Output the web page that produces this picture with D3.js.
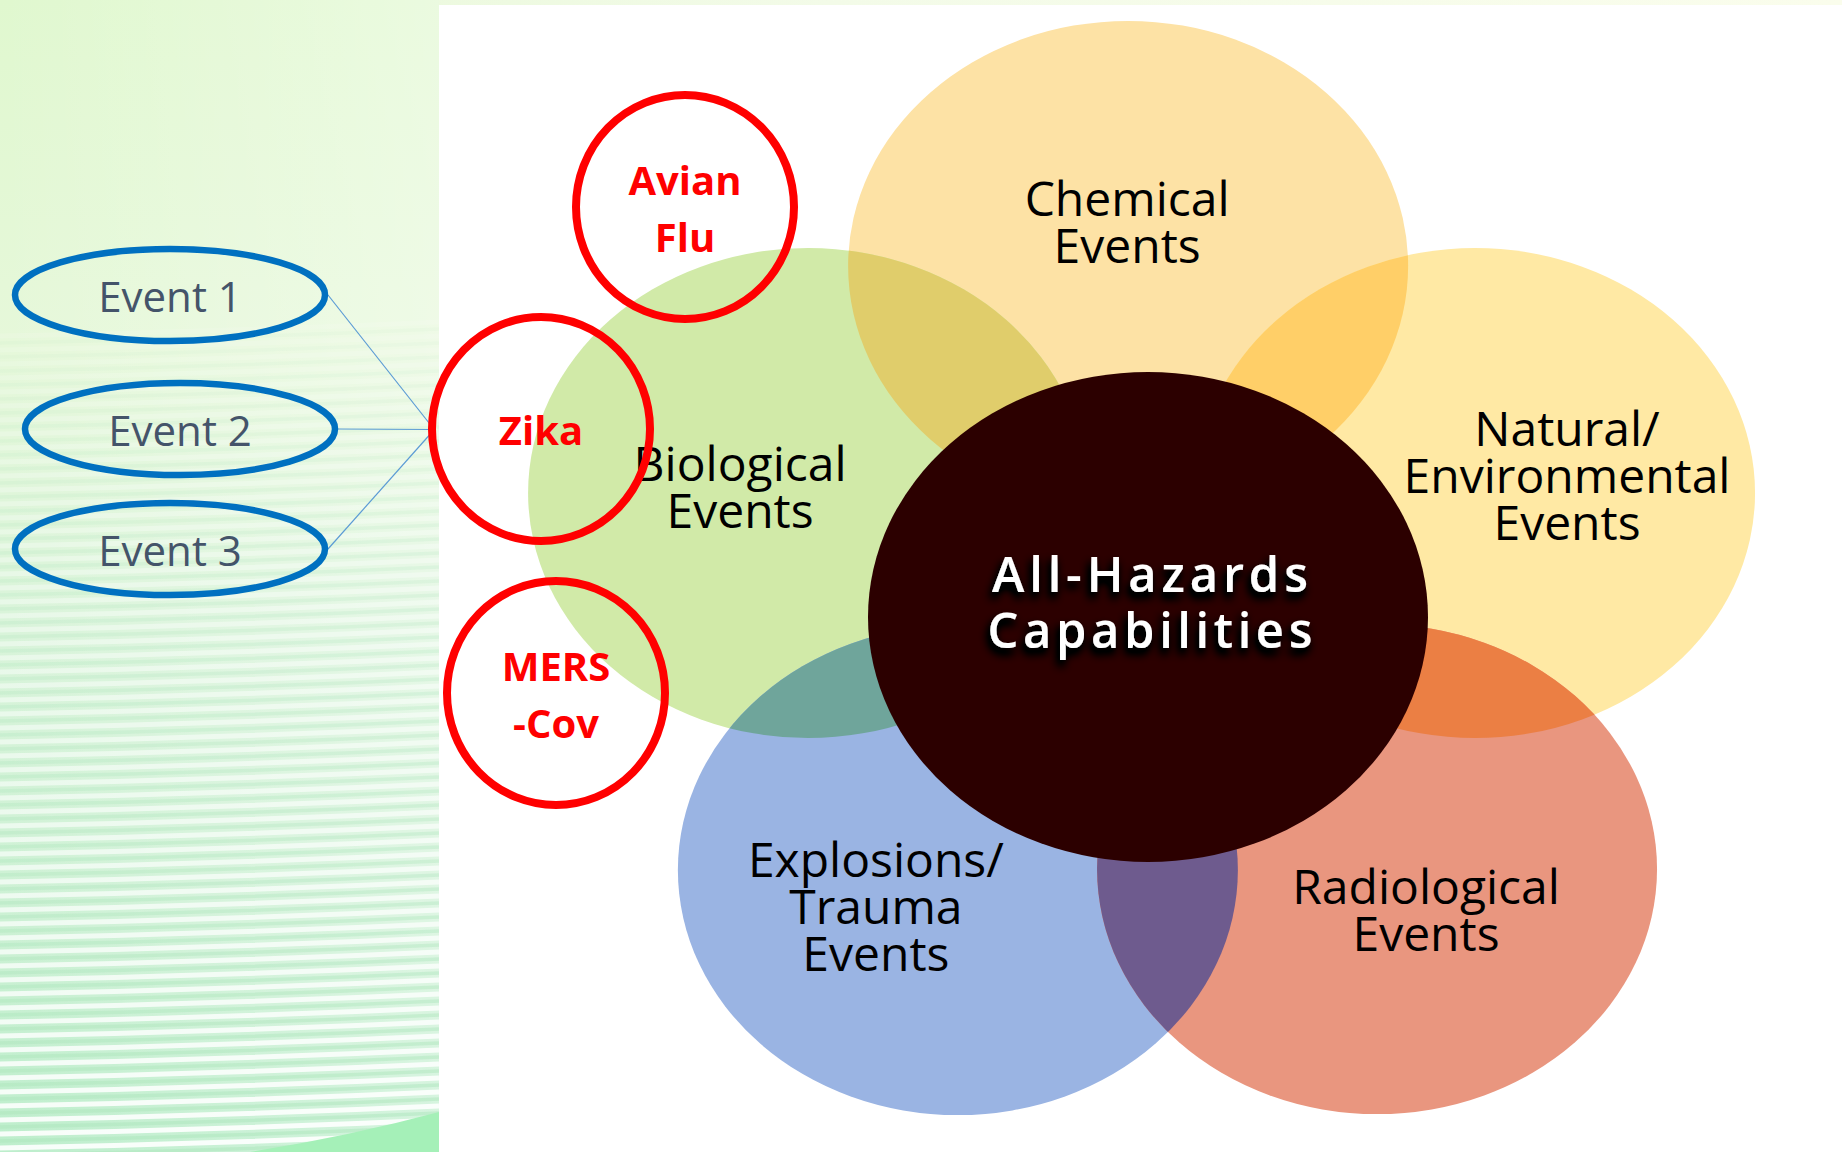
<!DOCTYPE html>
<html><head><meta charset="utf-8">
<script src="https://cdn.jsdelivr.net/npm/d3@7"></script>
<style>html,body{margin:0;padding:0;background:#fff;overflow:hidden}svg{display:block}</style>
</head><body><svg id="c" width="1842" height="1152"></svg>
<script>
// ---------------- data ----------------
const hazardNames  = ["Chemical", "Biological", "Natural", "Explosions", "Radiological"];
const hazardLabels = [["Chemical", "Events"], ["Biological", "Events"], ["Natural/", "Environmental", "Events"], ["Explosions/", "Trauma", "Events"], ["Radiological", "Events"]];
// ellipse centres in "diagram units" (1 unit = one radius of the central ellipse)
const hazardX = [-0.071, -1.214, 1.168, -0.679, 0.818];
const hazardY = [-1.433, -0.506, -0.506, 1.033, 1.029];
const overlapPairs = [["Chemical", "Biological"], ["Chemical", "Natural"], ["Biological", "Explosions"], ["Natural", "Radiological"], ["Explosions", "Radiological"]];
const centerLabel = ["All-Hazards", "Capabilities"];
const pathogenLabels = [["Avian", "Flu"], ["Zika"], ["MERS", "-Cov"]];
const eventLabels = ["Event 1", "Event 2", "Event 3"];

// ---------------- style / layout ----------------
const hazardColors  = ["#fde2a5", "#d1eaa8", "#ffe9a4", "#9ab4e3", "#e9967f"];
const overlapColors = ["#e0cd6b", "#ffcf68", "#6fa59b", "#eb7f44", "#6e5b8e"];
const centerColor = "#2c0000";
const labelDx = [-1, -68, 92, -82, 49];
const labelDy = [-50, -12, -47, 7, 35];
const labelLH = 47;
const pathogenPos = [[685, 207], [541, 429], [556, 693]];
const eventPos = [[170, 295], [180, 429], [170, 549]];

const svg = d3.select("#c");
const defs = svg.append("defs");

function grad(id, horizontal, stops) {
  const g = defs.append("linearGradient").attr("id", id)
    .attr("x1", 0).attr("y1", 0).attr("x2", horizontal ? 1 : 0).attr("y2", horizontal ? 0 : 1);
  stops.forEach(s => g.append("stop").attr("offset", s[0]).attr("stop-color", s[1]).attr("stop-opacity", s[2] == null ? 1 : s[2]));
}
grad("gTop", true, [[0, "#e6f8d6"], [0.45, "#f3fbe8"], [1, "#fafdec"]]);
grad("gLeft", false, [[0, "#e0f8cf"], [0.3, "#e6f8da"], [0.55, "#d9f4da"], [0.8, "#ccf1d4"], [1, "#bdeecc"]]);
grad("gLeftH", true, [[0, "#ffffff", 0], [1, "#ffffff", 0.35]]);

// text shadow filter
const f = defs.append("filter").attr("id", "shadow").attr("x", "-20%").attr("y", "-60%").attr("width", "140%").attr("height", "240%");
f.append("feGaussianBlur").attr("in", "SourceAlpha").attr("stdDeviation", 5).attr("result", "b");
f.append("feOffset").attr("in", "b").attr("dx", -2).attr("dy", 6).attr("result", "o");
f.append("feComponentTransfer").attr("in", "o").attr("result", "o2").append("feFuncA").attr("type", "linear").attr("slope", 2.4);
const fm = f.append("feMerge");
fm.append("feMergeNode").attr("in", "o2");
fm.append("feMergeNode").attr("in", "SourceGraphic");

// ---------------- background ----------------
svg.append("rect").attr("width", 1842).attr("height", 1152).attr("fill", "url(#gTop)");
defs.append("clipPath").attr("id", "leftClip").append("rect").attr("width", 439).attr("height", 1152);
const left = svg.append("g").attr("clip-path", "url(#leftClip)");
left.append("rect").attr("width", 439).attr("height", 1152).attr("fill", "url(#gLeft)");
left.append("rect").attr("width", 439).attr("height", 1152).attr("fill", "url(#gLeftH)");
// decorative stripes
const stripeYs = d3.range(330, 1170, 14);
const op = d3.scaleLinear().domain([330, 1152]).range([0.12, 0.9]).clamp(true);
left.selectAll("path.dk").data(stripeYs).join("path")
  .attr("d", y => `M0,${y + 13} Q220,${y + 9} 439,${y - 1}`)
  .attr("fill", "none").attr("stroke", "#aee6bd").attr("stroke-width", 3.5)
  .attr("stroke-opacity", y => op(y) * 0.6);
left.selectAll("path.wt").data(stripeYs).join("path")
  .attr("d", y => `M0,${y + 6} Q220,${y + 2} 439,${y - 8}`)
  .attr("fill", "none").attr("stroke", "#ffffff").attr("stroke-width", 5)
  .attr("stroke-opacity", y => op(y));
left.append("path").attr("d", "M250,1152 Q350,1136 439,1112 L439,1152 Z").attr("fill", "#a5f0b8");
svg.append("rect").attr("x", 439).attr("y", 5).attr("width", 1403).attr("height", 1147).attr("fill", "#ffffff");

// ---------------- hazard ellipses ----------------
const sx = d3.scaleLinear().domain([-1, 1]).range([868, 1428]);
const sy = d3.scaleLinear().domain([-1, 1]).range([372, 862]);
const RX = sx(1) - sx(0), RY = sy(1) - sy(0);
const hz = hazardNames.map((n, i) => ({ name: n, cx: sx(hazardX[i]), cy: sy(hazardY[i]), color: hazardColors[i], lines: hazardLabels[i], i }));
const byName = Object.fromEntries(hz.map(d => [d.name, d]));
hz.forEach(d => defs.append("clipPath").attr("id", "clip-" + d.name)
  .append("ellipse").attr("cx", d.cx).attr("cy", d.cy).attr("rx", RX).attr("ry", RY));

const gH = svg.append("g");
gH.selectAll("ellipse.h").data(hz).join("ellipse").attr("class", "h")
  .attr("cx", d => d.cx).attr("cy", d => d.cy).attr("rx", RX).attr("ry", RY).attr("fill", d => d.color);
gH.selectAll("ellipse.o").data(overlapPairs).join("ellipse").attr("class", "o")
  .attr("clip-path", p => `url(#clip-${p[0]})`)
  .attr("cx", p => byName[p[1]].cx).attr("cy", p => byName[p[1]].cy).attr("rx", RX).attr("ry", RY)
  .attr("fill", (p, i) => overlapColors[i]);
gH.append("ellipse").attr("cx", sx(0)).attr("cy", sy(0)).attr("rx", RX).attr("ry", RY).attr("fill", centerColor);

// hazard labels
const gL = svg.append("g").attr("font-family", "'Open Sans', sans-serif").attr("font-size", 48).attr("fill", "#000").attr("text-anchor", "middle");
hz.forEach(d => {
  const t = gL.append("text");
  d.lines.forEach((s, k) => t.append("tspan").attr("x", d.cx + labelDx[d.i]).attr("y", d.cy + labelDy[d.i] + k * labelLH).text(s));
});

// center label
const gC = svg.append("g").attr("font-family", "'Open Sans', sans-serif").attr("font-size", 49).attr("font-weight", 600)
  .attr("fill", "#ffffff").attr("text-anchor", "middle").attr("filter", "url(#shadow)");
centerLabel.forEach((s, k) => gC.append("text").attr("x", sx(0) + 2).attr("y", 592 + k * 56)
  .attr("textLength", k === 0 ? 316 : 325).attr("lengthAdjust", "spacing").text(s));

// ---------------- events ----------------
const gE = svg.append("g");
const zika = pathogenPos[1];
const ERX = 155, ERY = 46;
gE.selectAll("line").data(eventPos).join("line")
  .attr("x1", d => d[0] + ERX + 3).attr("y1", d => d[1])
  .attr("x2", zika[0] - 108).attr("y2", (d, i) => 428 + i * 1.5)
  .attr("stroke", "#5b9bd5").attr("stroke-width", 1.2);
gE.selectAll("ellipse").data(eventPos).join("ellipse")
  .attr("cx", d => d[0]).attr("cy", d => d[1]).attr("rx", ERX).attr("ry", ERY)
  .attr("fill", "none").attr("stroke", "#0070c0").attr("stroke-width", 6.5);
gE.selectAll("text").data(eventLabels).join("text")
  .attr("x", (d, i) => eventPos[i][0]).attr("y", (d, i) => eventPos[i][1] + 17)
  .attr("text-anchor", "middle").attr("font-family", "'Open Sans', sans-serif").attr("font-size", 42)
  .attr("fill", "#44546a").text(d => d);

// ---------------- pathogens ----------------
const gP = svg.append("g");
gP.selectAll("ellipse").data(pathogenPos).join("ellipse")
  .attr("cx", d => d[0]).attr("cy", d => d[1]).attr("rx", 109).attr("ry", 112)
  .attr("fill", "none").attr("stroke", "#ff0000").attr("stroke-width", 8);
pathogenLabels.forEach((lines, i) => {
  const [cx, cy] = pathogenPos[i];
  const t = gP.append("text").attr("text-anchor", "middle").attr("font-family", "'Open Sans', sans-serif")
    .attr("font-size", 40).attr("font-weight", 700).attr("fill", "#ff0000");
  const first = cy + 16 - (lines.length - 1) * 28.5;
  lines.forEach((s, k) => t.append("tspan").attr("x", cx).attr("y", first + k * 57).text(s));
});
</script></body></html>
